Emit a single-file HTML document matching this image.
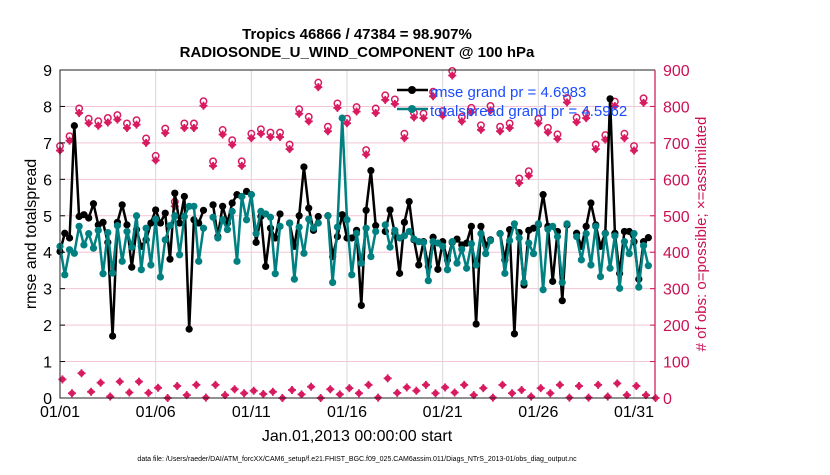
<!DOCTYPE html>
<html><head><meta charset="utf-8"><style>
body{margin:0;background:#fff;}
svg text{font-family:"Liberation Sans",sans-serif;}
</style></head><body>
<svg id="chart" width="830" height="470" viewBox="0 0 830 470" xmlns="http://www.w3.org/2000/svg">
<rect width="830" height="470" fill="#fff"/>
<text x="357" y="39" text-anchor="middle" font-size="15" font-weight="bold">Tropics 46866 / 47384 = 98.907%</text>
<text x="357" y="57" text-anchor="middle" font-size="15" font-weight="bold">RADIOSONDE_U_WIND_COMPONENT @ 100 hPa</text>
<g id="grid"></g><g id="obs"></g><g id="series"></g><g id="axes"></g>
<text transform="translate(36,234) rotate(-90)" text-anchor="middle" font-size="16">rmse and totalspread</text>
<text transform="translate(706,234) rotate(-90)" text-anchor="middle" font-size="15" fill="#cc1155"># of obs: o=possible; ×=assimilated</text>
<text x="357" y="441" text-anchor="middle" font-size="16">Jan.01,2013 00:00:00 start</text>
<text x="357" y="461" text-anchor="middle" font-size="7">data file: /Users/raeder/DAI/ATM_forcXX/CAM6_setup/f.e21.FHIST_BGC.f09_025.CAM6assim.011/Diags_NTrS_2013-01/obs_diag_output.nc</text>
<g id="legend">
<line x1="397" y1="90" x2="428" y2="90" stroke="#000" stroke-width="2.5"/>
<circle cx="412" cy="90" r="4" fill="#000"/>
<text x="430" y="97" font-size="15" fill="#1a4cff">rmse grand pr = 4.6983</text>
<line x1="397" y1="109" x2="428" y2="109" stroke="#008080" stroke-width="2.5"/>
<circle cx="412" cy="109" r="4" fill="#008080"/>
<text x="430" y="116" font-size="15" fill="#1a4cff">totalspread grand pr = 4.5962</text>
</g>
</svg>
<script>
const xTickLabels=["01/01","01/06","01/11","01/16","01/21","01/26","01/31"];
const xTickDays=[0,5,10,15,20,25,30];
const yTicks=[0,1,2,3,4,5,6,7,8,9];
const rTicks=[0,100,200,300,400,500,600,700,800,900];
const rmse=[4.02,4.52,4.39,7.47,4.98,5.03,4.94,5.33,4.75,4.82,4.27,1.70,4.82,5.30,4.75,3.59,4.62,4.16,4.34,4.80,5.16,4.80,5.07,3.81,5.62,4.80,5.53,1.89,4.89,4.80,5.15,null,
5.30,4.43,5.26,4.80,5.35,5.58,5.53,5.67,5.58,4.27,4.98,3.61,4.66,4.39,5.05,null,4.80,4.16,5.0,6.34,5.21,4.60,4.98,null,
5.0,3.88,4.43,5.03,4.39,4.39,4.60,2.54,5.15,6.24,4.73,null,4.57,5.16,4.52,3.42,4.82,5.39,4.34,3.65,4.29,3.61,4.41,3.53,4.29,
3.79,4.27,4.36,4.20,4.25,4.71,2.03,4.71,4.20,4.34,null,4.51,3.79,4.62,1.76,4.54,3.10,4.60,4.66,4.75,5.58,4.71,3.20,4.57,2.67,4.75,null,
4.52,4.16,4.71,5.35,4.75,4.16,4.52,8.21,4.52,3.42,4.57,4.57,4.29,3.26,4.29,4.40];
const spread=[4.16,3.38,4.07,3.97,4.71,4.20,4.51,4.11,4.60,3.41,4.54,3.43,4.73,3.75,4.57,4.14,5.0,3.52,4.66,3.65,4.91,3.32,4.34,4.73,5.0,3.93,4.98,5.26,5.26,3.75,4.66,null,
4.96,4.39,4.89,4.62,5.12,3.75,5.53,4.89,5.58,4.51,5.12,5.05,4.96,3.41,4.71,null,4.80,3.26,4.69,3.97,4.91,4.66,4.80,null,
5.0,3.17,4.69,7.68,4.89,3.38,4.52,3.70,4.66,3.88,4.57,null,4.75,4.14,4.60,4.39,4.45,4.57,4.36,4.29,4.27,3.22,4.29,4.25,4.16,
3.52,4.29,3.70,4.08,3.56,4.23,3.65,4.51,3.96,4.32,null,4.51,3.42,4.32,4.78,4.39,3.17,4.25,3.96,4.78,2.97,4.63,4.71,4.43,3.17,4.78,null,
4.43,3.79,4.51,3.65,4.71,3.33,4.51,3.56,4.45,3.01,4.29,3.96,4.51,3.04,4.18,3.63];
const obsHigh=[679,706,782,754,747,756,764,741,750,700,652,727,526,741,741,802,637,723,695,637,713,725,716,716,683,780,759,853,732,796,754,786,668,782,818,807,713,770,768,828,775,885,759,784,736,789,732,741,590,610,754,729,711,811,757,768,683,709,801,713,679,810];
const obsLow=[51,13,68,17,42,4,45,15,45,14,28,0,33,8,36,1,36,8,24,13,20,11,17,0,22,10,31,0,24,10,27,13,36,1,54,14,29,20,36,13,29,15,36,8,27,1,36,13,22,4,27,13,36,1,33,1,36,4,40,8,33,8,0];

const X0=60,X1=655,Y0=398,Y1=70;
const dayW=(634-60)/30;
const xDay=d=>X0+d*dayW;
const xStep=i=>xDay(i/4);
const yL=v=>Y0-(v/9)*(Y0-Y1);
const yR=v=>Y0-(v/900)*(Y0-Y1);
const NS="http://www.w3.org/2000/svg";
function mk(tag,parent,attrs){const e=document.createElementNS(NS,tag);for(const k in attrs)e.setAttribute(k,attrs[k]);parent.appendChild(e);return e;}
const grid=document.getElementById('grid'),axes=document.getElementById('axes'),series=document.getElementById('series'),obs=document.getElementById('obs');

yTicks.forEach((t,i)=>{
  const y=yL(t);
  if(t>0&&t<9){const g=mk('line',grid,{x1:X0,x2:X1,y1:y,y2:y,stroke:'#f2c6d6','stroke-width':1});
  
  }
  const tk=mk('line',axes,{x1:X0,x2:X0+5,y1:y,y2:y,stroke:'#000'});
  
  
  const tx=mk('text',axes,{x:X0-8,y:y+6,'text-anchor':'end','font-size':16});
  tx.textContent=t;
  
  
});
rTicks.forEach(t=>{
  const y=yR(t);
  const tk=mk('line',axes,{x1:X1-5,x2:X1,y1:y,y2:y,stroke:'#cc1155'});
  
  
  const tx=mk('text',axes,{x:X1+8,y:y+6,'font-size':16,fill:'#cc1155'});
  tx.textContent=t;
  
  
});
xTickDays.forEach((d,i)=>{
  const x=xDay(d);
  if(d>0){const g=mk('line',grid,{x1:x,x2:x,y1:Y1,y2:Y0,stroke:'#d8d8d8','stroke-width':1});
  
  }
  const tx=mk('text',axes,{x:x,y:Y0+19,'text-anchor':'middle','font-size':16});
  tx.textContent=xTickLabels[i];
  
  
});
const box=mk('path',axes,{d:`M${X1},${Y1} H${X0} V${Y0} H${X1}`,fill:'none',stroke:'#222','stroke-width':1});


const rax=mk('line',axes,{x1:X1,x2:X1,y1:Y1,y2:Y0,stroke:'#cc1155','stroke-width':1.2});



function star(x,y,name){
  const g=mk('g',obs,{stroke:'#d81b60','stroke-width':1.8,fill:'#d81b60'});
  
  
  mk('line',g,{x1:x-4,x2:x+4,y1:y,y2:y});
  mk('line',g,{x1:x,x2:x,y1:y-4,y2:y+4});
  mk('circle',g,{cx:x,cy:y,r:3,stroke:'none'});
}
obsHigh.forEach((v,i)=>{
  const x=xStep(i*2),y=yR(v);
  star(x,y,'obs-possible-marker');
  const c=mk('circle',obs,{cx:x,cy:y-4.5,r:3.2,fill:'none',stroke:'#d81b60','stroke-width':1.5});
  
  
});
obsLow.forEach((v,i)=>{star(xStep(i*2+0.5),yR(v),'obs-low-marker');});

function drawSeries(arr,color,name){
  let d='',pen=false;
  arr.forEach((v,i)=>{if(v==null){pen=false;return;}d+=(pen?'L':'M')+xStep(i).toFixed(1)+','+yL(v).toFixed(1)+' ';pen=true;});
  const p=mk('path',series,{d:d,fill:'none',stroke:color,'stroke-width':2.5,'stroke-linejoin':'round'});
  
  
  arr.forEach((v,i)=>{if(v==null)return;
    const c=mk('circle',series,{cx:xStep(i),cy:yL(v),r:3.6,fill:color});
    
    });
}
drawSeries(rmse,'#000','rmse');
drawSeries(spread,'#008080','totalspread');
</script>
</body></html>
